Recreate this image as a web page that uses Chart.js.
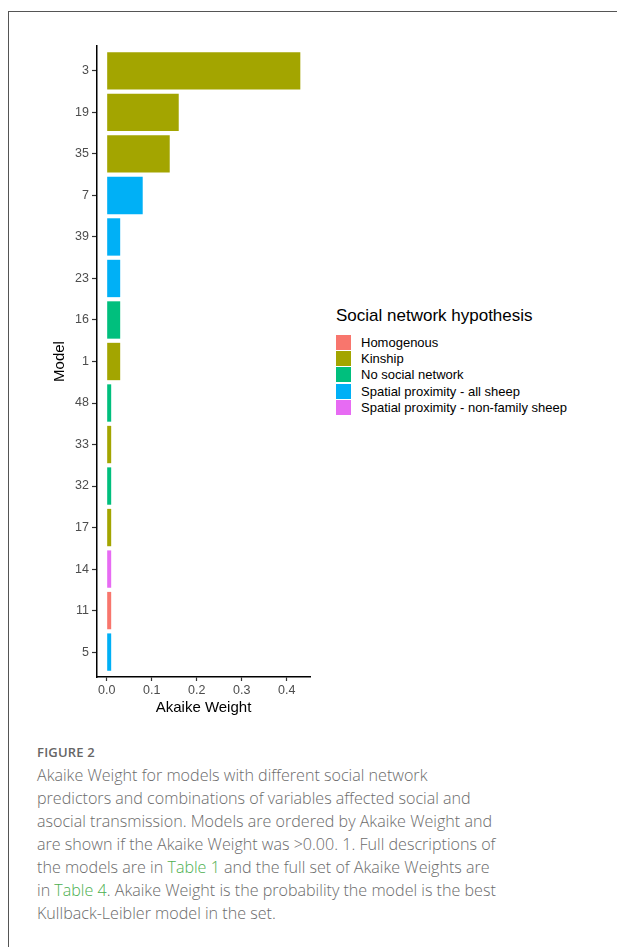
<!DOCTYPE html>
<html>
<head>
<meta charset="utf-8">
<script src="https://cdn.jsdelivr.net/npm/chart.js@4/dist/chart.umd.min.js"></script>
<style>
  html, body { margin: 0; padding: 0; background: #fff; }
  body { width: 617px; height: 947px; position: relative; overflow: hidden; font-family: "Liberation Sans", Arial, sans-serif; }
  .frame { position: absolute; left: 8px; top: 11px; width: 700px; height: 1000px; border-left: 1.5px solid #555; border-top: 1.5px solid #555; }
  #wrap { position: absolute; left: 0; top: 0; width: 330px; height: 730px; }
  .legend { position: absolute; left: 336px; top: 305px; color: #000; }
  .legend .ttl { font-size: 17px; line-height: 22px; margin-bottom: 7px; white-space: nowrap; }
  .legend .row { display: flex; align-items: center; height: 16.4px; white-space: nowrap; font-size: 13px; }
  .legend .key { width: 15px; height: 15px; margin-right: 10px; }
  .caption { position: absolute; left: 37px; top: 742px; color: #6b6b6b; font-family: "Open Sans", sans-serif; }
  .caption .fig { font-size: 13px; font-weight: 600; letter-spacing: 0.2px; line-height: 20px; color: #666; }
  .caption .txt { font-size: 16.1px; font-weight: 300; line-height: 23px; white-space: nowrap; margin-top: 2px; }
  .caption a { color: #4caf50; text-decoration: none; }
</style>
</head>
<body>
<div class="frame"></div>
<div id="wrap"><canvas id="chart"></canvas></div>
<div class="legend" id="legend"></div>
<div class="caption">
  <div class="fig">FIGURE 2</div>
  <div class="txt">Akaike Weight for models with different social network<br>predictors and combinations of variables affected social and<br>asocial transmission. Models are ordered by Akaike Weight and<br>are shown if the Akaike Weight was &gt;0.00. 1. Full descriptions of<br>the models are in <a>Table 1</a> and the full set of Akaike Weights are<br>in <a>Table 4</a>. Akaike Weight is the probability the model is the best<br>Kullback-Leibler model in the set.</div>
</div>
<script>
// Models ordered by Akaike Weight (top to bottom)
const models = ['3', '19', '35', '7', '39', '23', '16', '1', '48', '33', '32', '17', '14', '11', '5'];
const weights = [0.43, 0.16, 0.14, 0.08, 0.03, 0.03, 0.03, 0.03, 0.01, 0.01, 0.01, 0.01, 0.01, 0.01, 0.01];
const hypothesisOf = [
  'Kinship', 'Kinship', 'Kinship', 'Spatial proximity - all sheep',
  'Spatial proximity - all sheep', 'Spatial proximity - all sheep', 'No social network', 'Kinship',
  'No social network', 'Kinship', 'No social network', 'Kinship',
  'Spatial proximity - non-family sheep', 'Homogenous', 'Spatial proximity - all sheep'
];
const hypotheses = ['Homogenous', 'Kinship', 'No social network', 'Spatial proximity - all sheep', 'Spatial proximity - non-family sheep'];
const hypothesisColors = ['#F8766D', '#A3A500', '#00BF7D', '#00B0F6', '#E76BF3'];
const xTicks = [0, 0.1, 0.2, 0.3, 0.4];

const colorFor = h => hypothesisColors[hypotheses.indexOf(h)];

// Legend
const legend = document.getElementById('legend');
legend.innerHTML = '<div class="ttl">Social network hypothesis</div>' +
  hypotheses.map((h, i) => `<div class="row"><span class="key" style="background:${hypothesisColors[i]}"></span>${h}</div>`).join('');

const canvas = document.getElementById('chart');
canvas.width = 330; canvas.height = 730;

// discrete axis padded by 0.6 of a band on each end
const yMin = -0.6, yMax = models.length - 1 + 0.6;
const xMax = Math.max(...weights);
const xPad = xMax * 0.05;
const tickFont = { family: '"Liberation Sans", Arial, sans-serif', size: 12.5 };
const titleFont = { family: '"Liberation Sans", Arial, sans-serif', size: 15 };

new Chart(canvas, {
  type: 'bar',
  data: {
    datasets: [{
      data: weights.map((w, i) => ({ x: w, y: i })),
      backgroundColor: hypothesisOf.map(colorFor),
      borderWidth: 0,
      barPercentage: 0.9,
      categoryPercentage: 1.0
    }]
  },
  options: {
    indexAxis: 'y',
    responsive: false,
    animation: false,
    devicePixelRatio: 1,
    layout: { padding: { top: 46, right: 20, left: 0, bottom: 0 } },
    plugins: { legend: { display: false }, tooltip: { enabled: false } },
    scales: {
      x: {
        type: 'linear',
        min: -xPad,
        max: xMax + xPad,
        offset: false,
        afterBuildTicks: s => { s.ticks = xTicks.map(v => ({ value: v })); },
        afterFit: s => { s.height = 53; },
        grid: { display: true, offset: false, drawOnChartArea: false, tickLength: 4, tickWidth: 1.2, tickColor: '#333' },
        border: { display: true, color: '#000', width: 1.5 },
        ticks: { padding: 2, color: '#4d4d4d', font: tickFont, callback: v => v.toFixed(1) },
        title: { display: true, text: 'Akaike Weight', color: '#000', font: titleFont, padding: { top: 0, bottom: 13 } }
      },
      y: {
        type: 'linear',
        reverse: true,
        min: yMin,
        max: yMax,
        offset: false,
        afterBuildTicks: s => { s.ticks = models.map((m, i) => ({ value: i })); },
        afterFit: s => { s.width = 97; },
        grid: { display: true, offset: false, drawOnChartArea: false, tickLength: 5, tickWidth: 1.2, tickColor: '#333' },
        border: { display: true, color: '#000', width: 1.5 },
        ticks: { padding: 3, color: '#4d4d4d', font: tickFont, callback: v => models[v] },
        title: { display: true, text: 'Model', color: '#000', font: titleFont, padding: { top: 51, bottom: 0 } }
      }
    }
  }
});
</script>
</body>
</html>
